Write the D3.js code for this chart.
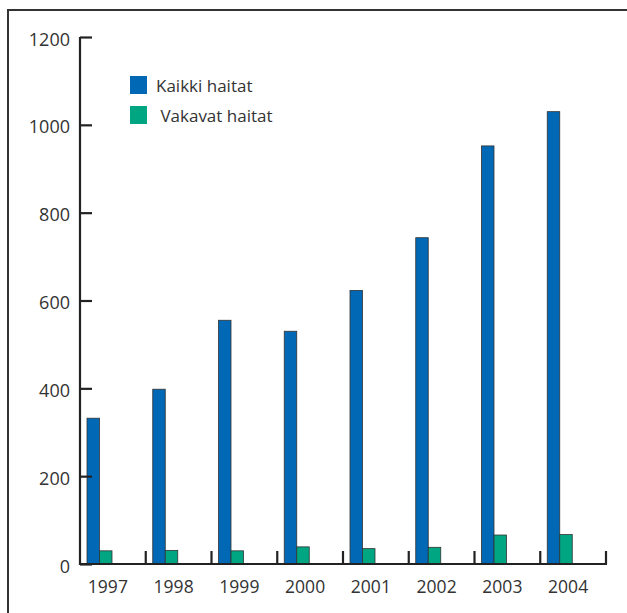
<!DOCTYPE html>
<html>
<head>
<meta charset="utf-8">
<script src="https://cdn.jsdelivr.net/npm/d3@7"></script>
<style>
  body { margin: 0; background: #fff; }
  text { font-family: "Open Sans", sans-serif; fill: #333; }
</style>
</head>
<body>
<div id="chart"></div>
<script>
(function() {
  var width = 627, height = 613;

  // data
  var years = ["1997", "1998", "1999", "2000", "2001", "2002", "2003", "2004"];
  var kaikki = [332, 398, 555, 530, 623, 743, 952, 1030];
  var vakavat = [30, 31, 30, 39, 35, 38, 66, 67];
  var yTicks = [0, 200, 400, 600, 800, 1000, 1200];
  var legendLabels = ["Kaikki haitat", " Vakavat haitat"];
  var colors = ["#0068b5", "#00a581"];

  var svg = d3.select("#chart").append("svg")
              .attr("width", width)
              .attr("height", height);

  // frame (runs off the right and bottom)
  svg.append("path")
     .attr("d", "M8," + (height + 5) + "V10H" + (width + 5))
     .attr("fill", "none")
     .attr("stroke", "#333")
     .attr("stroke-width", 2);

  var x = d3.scaleBand().domain(years).range([80, 606]).padding(0);
  var y = d3.scaleLinear().domain([0, 1200]).range([564, 37]);

  var g = svg.append("g");

  // bars
  var series = [kaikki, vakavat];
  series.forEach(function(vals, s) {
    g.selectAll(".bar" + s)
      .data(years)
      .enter().append("rect")
      .attr("class", "bar" + s)
      .attr("x", function(d) { return x(d) + 7 + s * 12.5; })
      .attr("width", 12.5)
      .attr("y", function(d, i) { return y(vals[i]); })
      .attr("height", function(d, i) { return y(0) - y(vals[i]); })
      .attr("fill", colors[s])
      .attr("stroke", "#333")
      .attr("stroke-width", 0.8);
  });

  // y axis
  var yAxis = d3.axisRight(y).tickValues(yTicks).tickSize(12).tickFormat("");
  var ya = svg.append("g").attr("transform", "translate(80,0)").call(yAxis);
  ya.select(".domain").attr("stroke", "#222").attr("stroke-width", 2.2).attr("d", "M0,37V565");
  ya.selectAll(".tick line").attr("stroke", "#222").attr("stroke-width", 2.2);

  svg.selectAll(".ylab")
     .data(yTicks)
     .enter().append("text")
     .attr("class", "ylab")
     .attr("x", 70)
     .attr("y", function(d) { return y(d) + 8.5; })
     .attr("text-anchor", "end")
     .style("font-size", "18px")
     .text(function(d) { return d; });

  // x axis: baseline with upward ticks on the category boundaries
  var bounds = years.map(function(d) { return x(d); }).concat([x.range()[1]]);
  svg.append("line")
     .attr("x1", 79).attr("x2", 607)
     .attr("y1", y(0)).attr("y2", y(0))
     .attr("stroke", "#222").attr("stroke-width", 2.2);
  svg.selectAll(".xtick")
     .data(bounds.slice(1))
     .enter().append("line")
     .attr("class", "xtick")
     .attr("x1", function(d) { return d; })
     .attr("x2", function(d) { return d; })
     .attr("y1", y(0))
     .attr("y2", y(0) - 13)
     .attr("stroke", "#222").attr("stroke-width", 2.2);

  svg.selectAll(".xlab")
     .data(years)
     .enter().append("text")
     .attr("class", "xlab")
     .attr("x", function(d) { return x(d) + x.bandwidth() / 2 - 5; })
     .attr("y", 593)
     .attr("text-anchor", "middle")
     .style("font-size", "17.5px")
     .text(function(d) { return d; });

  // legend
  var legend = svg.selectAll(".legend")
     .data(legendLabels)
     .enter().append("g")
     .attr("class", "legend")
     .attr("transform", function(d, i) { return "translate(130," + (76 + i * 30) + ")"; });
  legend.append("rect")
     .attr("width", 17).attr("height", 18)
     .attr("fill", function(d, i) { return colors[i]; });
  legend.append("text")
     .attr("x", 26).attr("y", 16)
     .style("font-size", "17px")
     .style("white-space", "pre")
     .text(function(d) { return d; });
})();
</script>
</body>
</html>
